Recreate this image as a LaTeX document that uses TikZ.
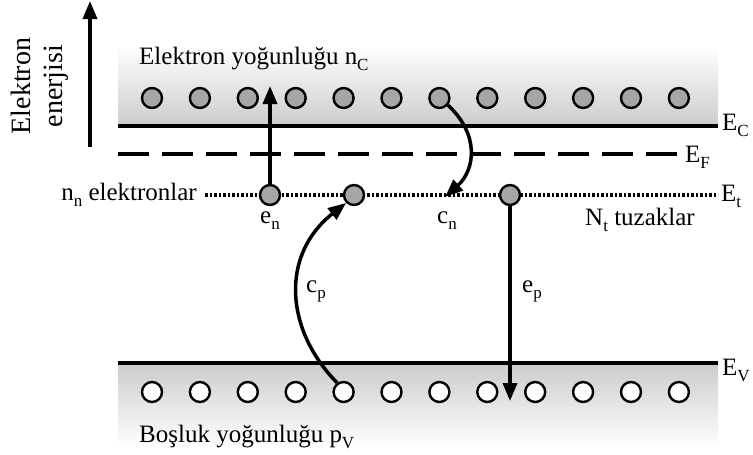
\documentclass[tikz,border=0pt]{standalone}
\usepackage{fontspec}
\setmainfont{Liberation Serif}
\usetikzlibrary{arrows.meta}
\newcommand\lsub[1]{\raisebox{-0.24em}{\fontsize{17}{17}\selectfont #1}}
\begin{document}
\begin{tikzpicture}[x=1pt,y=-1pt,
  txt/.style={font=\fontsize{25}{30}\selectfont, inner sep=0pt},
  band/.style={line width=3.5pt},
  elec/.style={circle, draw, line width=2.4pt, fill=black!35, minimum size=20pt, inner sep=0pt},
  hole/.style={circle, draw, line width=2.4pt, fill=white, minimum size=20pt, inner sep=0pt},
  arr/.style={line width=3.5pt, -{Triangle[length=18pt,width=14pt]}},
]
\useasboundingbox (0,0) rectangle (753,455);
% shaded bands
\shade[top color=white, bottom color=black!20] (118,46) rectangle (718,126);
\shade[top color=black!20, bottom color=white] (118,363) rectangle (718,447);
% levels
\draw[band] (118,126) -- (718,126);
\draw[band] (118,363) -- (718,363);
\draw[line width=3.5pt, dash pattern=on 31pt off 13pt] (118,154) -- (677,154);
\draw[line width=3.2pt, dash pattern=on 2.5pt off 2pt] (205,195) -- (718,195);
% carriers
\foreach \i in {1,...,12}{
  \node[elec] (c\i) at ({152+47.9*(\i-1)},98) {};
  \node[hole] (v\i) at ({152+47.9*(\i-1)},392) {};
}
% traps
\node[elec] (t1) at (270,195) {};
\node[elec] (t2) at (354,195) {};
\node[elec] (t3) at (510,195) {};
% energy axis
\coordinate (ax0) at (90,147);
\coordinate (ax1) at (90,1);
\draw[arr] (ax0) -- (ax1);
\node[font=\fontsize{28}{32}\selectfont, rotate=90, align=center, inner sep=0pt] (lab) at (40,86) {Elektron\\enerjisi};
% transitions
\coordinate (enTip) at (270,86);
\draw[arr] (t1.north) -- (enTip);
\coordinate (cnTip) at (445,197);
\draw[arr] (c7.-40) .. controls (480,135) and (475,170) .. (cnTip);
\coordinate (epTip) at (510,401);
\draw[arr] (t3.south) -- (epTip);
\draw[arr] (v5.125) .. controls (285,330) and (280,255) .. (t2.225);
% labels
\node[txt, anchor=west] (nc) at (139,59) {Elektron yoğunluğu n\lsub{C}};
\node[txt, anchor=west] (pv) at (139,437) {Boşluk yoğunluğu p\lsub{V}};
\node[txt, anchor=east] (nn) at (197,195) {n\lsub{n} elektronlar};
\node[txt, anchor=west] (ec) at (722,125) {E\lsub{C}};
\node[txt, anchor=west] (ef) at (685,157) {E\lsub{F}};
\node[txt, anchor=west] (et) at (721,196) {E\lsub{t}};
\node[txt, anchor=west] (ev) at (722,370) {E\lsub{V}};
\node[txt] (en) at (270,221) {e\lsub{n}};
\node[txt] (cn) at (447,221) {c\lsub{n}};
\node[txt] (nt) at (640,220) {N\lsub{t} tuzaklar};
\node[txt] (cp) at (316,291) {c\lsub{p}};
\node[txt] (ep) at (532,291) {e\lsub{p}};
\end{tikzpicture}
\end{document}
